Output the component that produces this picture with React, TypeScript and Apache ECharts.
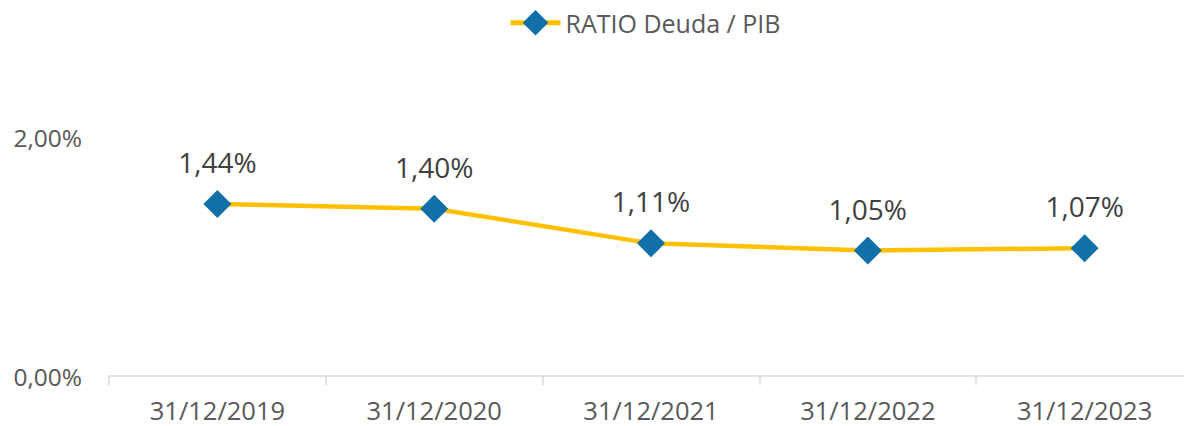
import React, { useEffect, useRef } from "react";
import * as echarts from "echarts";

const categories = ["31/12/2019", "31/12/2020", "31/12/2021", "31/12/2022", "31/12/2023"];
const seriesName = "RATIO Deuda / PIB";
const ratioValues = [1.44, 1.4, 1.11, 1.05, 1.07];
const yTicks = [0, 2];

const fmt = (v: number) => v.toFixed(2).replace(".", ",") + "%";
const FONT = "Open Sans";

export default function App() {
  const ref = useRef<HTMLDivElement>(null);
  useEffect(() => {
    if (!ref.current) return;
    const chart = echarts.init(ref.current, undefined, { renderer: "svg" });
    chart.setOption({
      animation: false,
      backgroundColor: "#ffffff",
      textStyle: { fontFamily: FONT },
      legend: {
        top: 5,
        left: 503,
        itemWidth: 50,
        itemHeight: 32,
        itemGap: 10,
        lineStyle: { width: 5 },
        textStyle: { fontFamily: FONT, fontSize: 25, color: "#595959" },
        data: [seriesName],
      },
      grid: { left: 109, right: 7, top: 137, bottom: 50, containLabel: false },
      xAxis: {
        type: "category",
        data: categories,
        boundaryGap: true,
        axisLine: { show: true, lineStyle: { color: "#D9D9D9", width: 1.5 } },
        axisTick: { show: true, length: 9, lineStyle: { color: "#D9D9D9", width: 1.5 } },
        axisLabel: { fontFamily: FONT, fontSize: 25.5, color: "#595959", margin: 21 },
      },
      yAxis: {
        type: "value",
        min: yTicks[0],
        max: yTicks[yTicks.length - 1],
        interval: 2,
        axisLine: { show: false },
        axisTick: { show: false },
        splitLine: { show: false },
        axisLabel: {
          fontFamily: FONT,
          fontSize: 24.5,
          color: "#595959",
          margin: 27,
          formatter: (v: number) => fmt(v),
        },
      },
      series: [
        {
          name: seriesName,
          type: "line",
          data: ratioValues,
          symbol: "diamond",
          symbolSize: 28,
          lineStyle: { color: "#FFC000", width: 4.5 },
          itemStyle: { color: "#1170A8" },
          label: {
            show: true,
            position: "top",
            distance: 14,
            fontFamily: FONT,
            fontSize: 28,
            color: "#404040",
            formatter: (p: any) => fmt(p.value),
          },
        },
      ],
    });
    return () => chart.dispose();
  }, []);
  return (
    <div
      style={{
        position: "fixed",
        left: 0,
        top: 0,
        width: 1184,
        height: 426,
        overflow: "hidden",
      }}
    >
      <div ref={ref} style={{ width: 1200, height: 426 }} />
    </div>
  );
}
